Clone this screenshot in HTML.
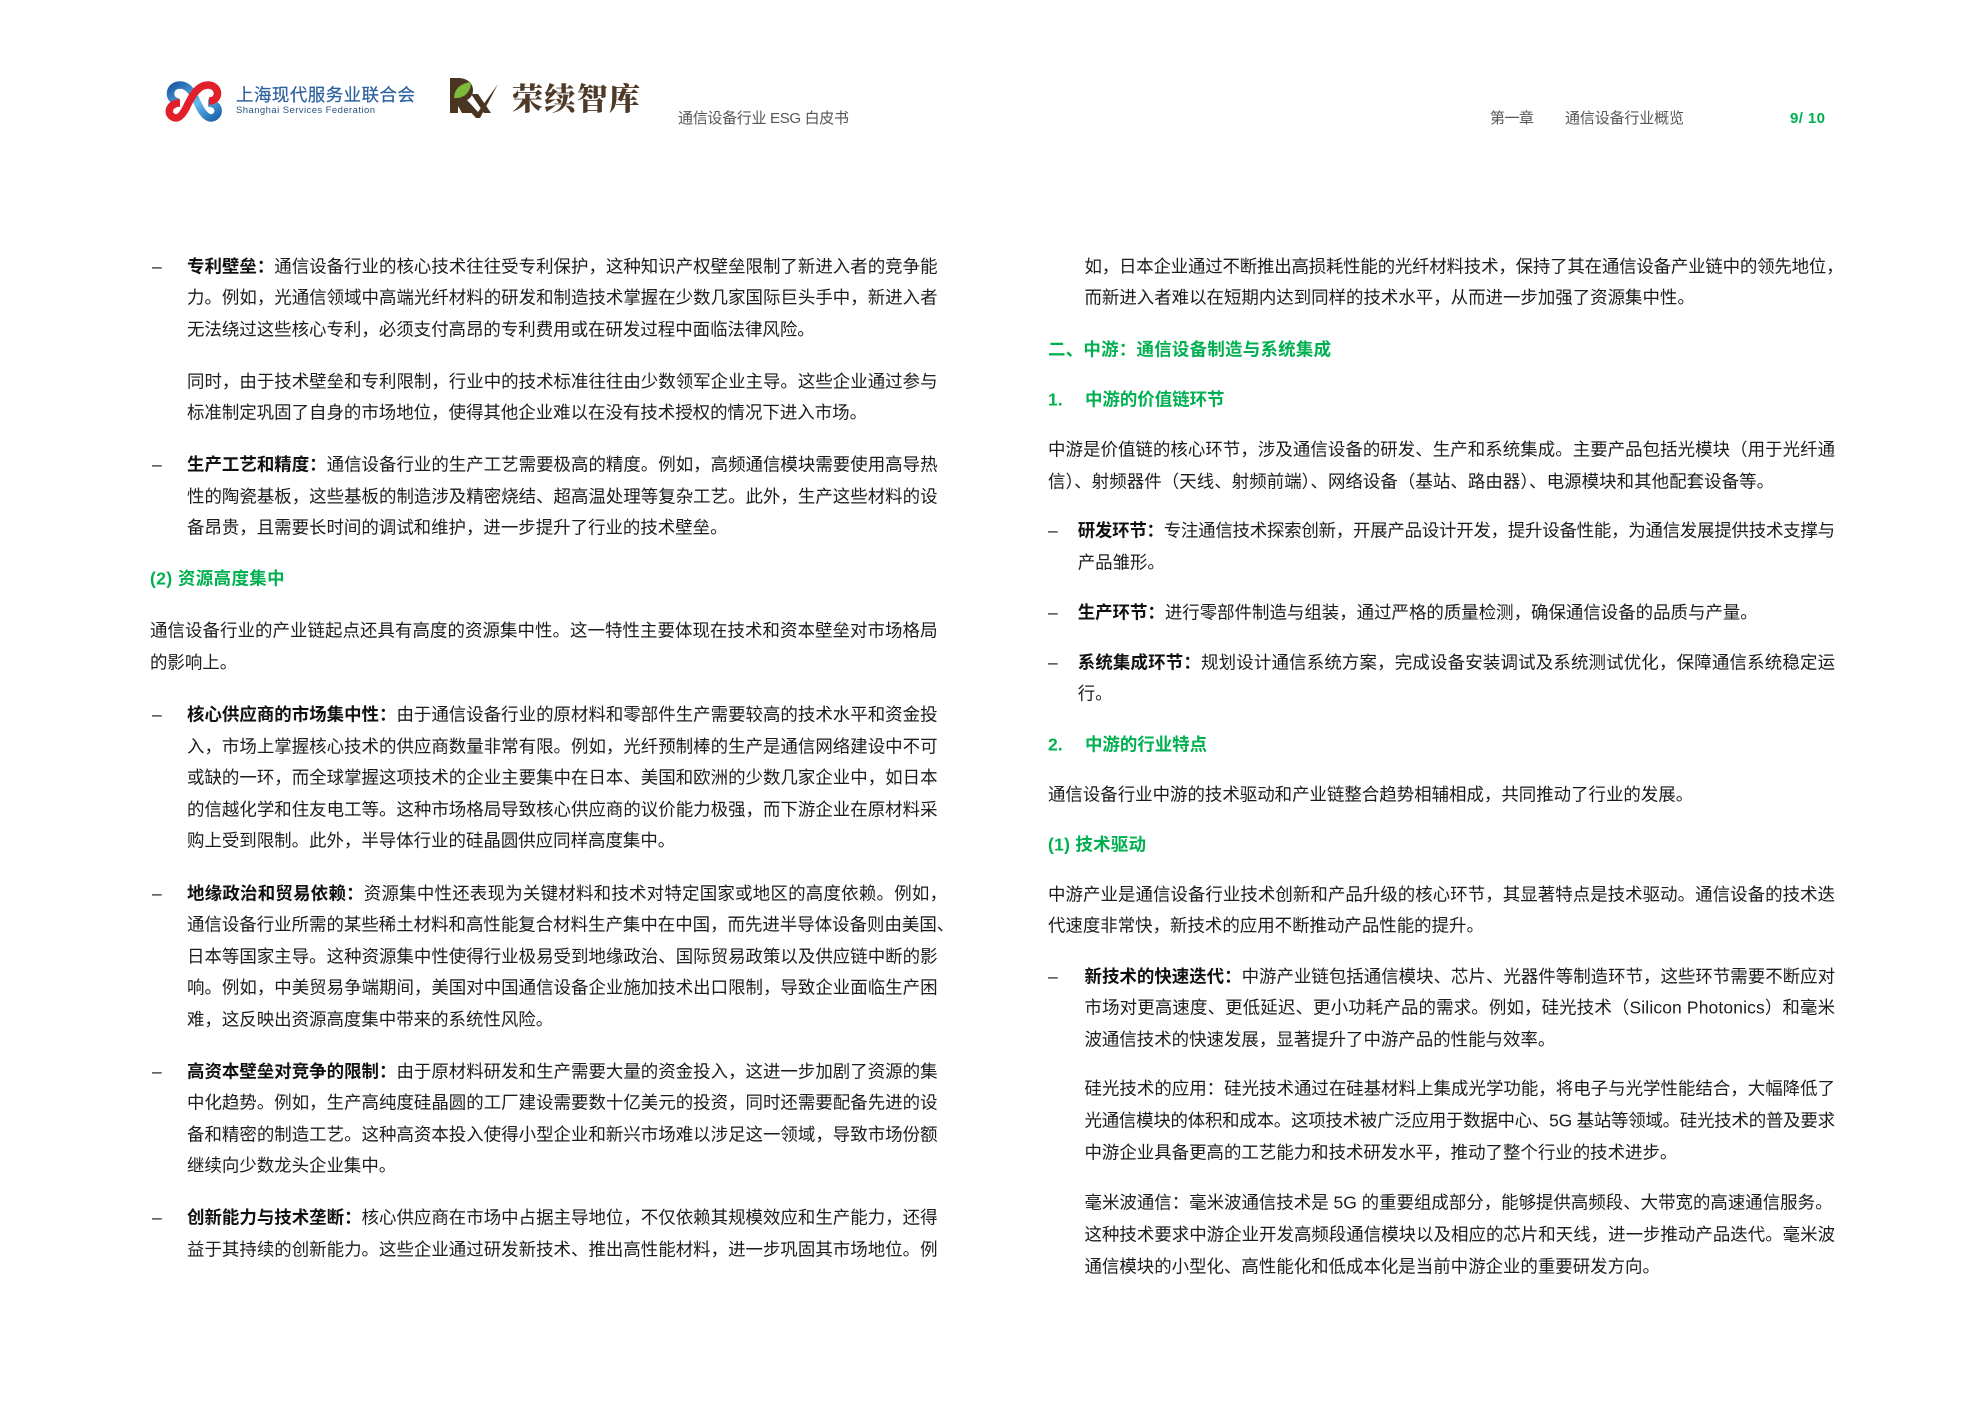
<!DOCTYPE html>
<html lang="zh-CN">
<head>
<meta charset="utf-8">
<title>通信设备行业 ESG 白皮书</title>
<style>
html,body{margin:0;padding:0;background:#fff;width:1984px;height:1403px;overflow:hidden}
svg{display:block}
text{font-family:"Liberation Sans","Noto Sans CJK SC",sans-serif;font-size:17.45px;fill:#1c1c1c;white-space:pre}
.b{font-weight:700;fill:#111}
.g{font-weight:700;fill:#00b050}
.h{font-size:15px;fill:#555}
</style>
</head>
<body>
<svg xmlns="http://www.w3.org/2000/svg" width="1984" height="1403" viewBox="0 0 1984 1403">
<defs>
<linearGradient id="bl" x1="0" y1="0" x2="1" y2="1"><stop offset="0" stop-color="#1a5aa6"/><stop offset=".55" stop-color="#66bdec"/><stop offset="1" stop-color="#1c64ad"/></linearGradient>
</defs>
<rect width="1984" height="1403" fill="#fff"/>

<!-- Federation logo -->
<path d="M179 102C167 101 168 85 180 85C190 85 194 96 198 104C202 113 207 118 211 118C221 117 221 103 208 103" fill="none" stroke="url(#bl)" stroke-width="7.5"/>
<path d="M209 101C221 101 220 85 208 85C198 85 192 96 188 104C184 113 180 118 176 118C166 117 167 103 180 103" fill="none" stroke="#e2202c" stroke-width="7.5"/>
<text x="236" y="101" textLength="179" style="font-size:17.5px;fill:#2c5f9e;stroke:#2c5f9e;stroke-width:.2">上海现代服务业联合会</text>
<text x="236" y="113" textLength="139" style="font-size:9.5px;fill:#28517f">Shanghai Services Federation</text>

<!-- Rongxu logo -->
<path d="M450 78H458C467 78 473 83 473 90C473 97 468 101 462 101L472 113H462L458 106V113H450Z" fill="#4a3422"/>
<path d="M454 98C454 89 461 83 471 82C471 92 464 99 454 98Z" fill="#7cba3a"/>
<path d="M461 101L467 100L478 112L498 84L480 118H476Z" fill="#4a3422"/>
<path d="M471 94H478L491 113H484Z" fill="#4a3422"/>
<text x="512" y="110" textLength="128" style="font-family:'Noto Serif CJK SC',serif;font-weight:900;font-size:31px;fill:#4f3a28">荣续智库</text>

<!-- Header -->
<text class="h" x="678" y="123" textLength="171">通信设备行业 ESG 白皮书</text>
<text class="h" x="1490" y="123" textLength="44">第一章</text>
<text class="h" x="1565" y="123" textLength="119">通信设备行业概览</text>
<text x="1790" y="123" textLength="35" style="font-size:15px;fill:#00b050;font-weight:700">9/ 10</text>

<!-- Left column -->
<g transform="translate(0,-1)">
<text x="152" y="273.6">–</text>
<text x="187" y="273.6" textLength="750.5"><tspan class="b">专利壁垒：</tspan>通信设备行业的核心技术往往受专利保护，这种知识产权壁垒限制了新进入者的竞争能</text>
<text x="187" y="304.6" textLength="750.5">力。例如，光通信领域中高端光纤材料的研发和制造技术掌握在少数几家国际巨头手中，新进入者</text>
<text x="187" y="336.6">无法绕过这些核心专利，必须支付高昂的专利费用或在研发过程中面临法律风险。</text>
<text x="187" y="388.6" textLength="750.5">同时，由于技术壁垒和专利限制，行业中的技术标准往往由少数领军企业主导。这些企业通过参与</text>
<text x="187" y="419.6">标准制定巩固了自身的市场地位，使得其他企业难以在没有技术授权的情况下进入市场。</text>
<text x="152" y="471.6">–</text>
<text x="187" y="471.6" textLength="750.5"><tspan class="b">生产工艺和精度：</tspan>通信设备行业的生产工艺需要极高的精度。例如，高频通信模块需要使用高导热</text>
<text x="187" y="503.6" textLength="750.5">性的陶瓷基板，这些基板的制造涉及精密烧结、超高温处理等复杂工艺。此外，生产这些材料的设</text>
<text x="187" y="534.6">备昂贵，且需要长时间的调试和维护，进一步提升了行业的技术壁垒。</text>
<text class="g" x="150" y="585.6" textLength="134.6">(2) 资源高度集中</text>
<text x="150" y="637.6" textLength="787.5">通信设备行业的产业链起点还具有高度的资源集中性。这一特性主要体现在技术和资本壁垒对市场格局</text>
<text x="150" y="669.6">的影响上。</text>
<text x="152" y="721.6">–</text>
<text x="187" y="721.6" textLength="750.5"><tspan class="b">核心供应商的市场集中性：</tspan>由于通信设备行业的原材料和零部件生产需要较高的技术水平和资金投</text>
<text x="187" y="753.6" textLength="750.5">入，市场上掌握核心技术的供应商数量非常有限。例如，光纤预制棒的生产是通信网络建设中不可</text>
<text x="187" y="784.6" textLength="750.5">或缺的一环，而全球掌握这项技术的企业主要集中在日本、美国和欧洲的少数几家企业中，如日本</text>
<text x="187" y="816.6" textLength="750.5">的信越化学和住友电工等。这种市场格局导致核心供应商的议价能力极强，而下游企业在原材料采</text>
<text x="187" y="847.6">购上受到限制。此外，半导体行业的硅晶圆供应同样高度集中。</text>
<text x="152" y="900.6">–</text>
<text x="187" y="900.6" textLength="760"><tspan class="b">地缘政治和贸易依赖：</tspan>资源集中性还表现为关键材料和技术对特定国家或地区的高度依赖。例如，</text>
<text x="187" y="931.6">通信设备行业所需的某些稀土材料和高性能复合材料生产集中在中国，而先进半导体设备则由美国、</text>
<text x="187" y="963.6" textLength="750.5">日本等国家主导。这种资源集中性使得行业极易受到地缘政治、国际贸易政策以及供应链中断的影</text>
<text x="187" y="994.6" textLength="750.5">响。例如，中美贸易争端期间，美国对中国通信设备企业施加技术出口限制，导致企业面临生产困</text>
<text x="187" y="1026.6">难，这反映出资源高度集中带来的系统性风险。</text>
<text x="152" y="1078.6">–</text>
<text x="187" y="1078.6" textLength="750.5"><tspan class="b">高资本壁垒对竞争的限制：</tspan>由于原材料研发和生产需要大量的资金投入，这进一步加剧了资源的集</text>
<text x="187" y="1109.6" textLength="750.5">中化趋势。例如，生产高纯度硅晶圆的工厂建设需要数十亿美元的投资，同时还需要配备先进的设</text>
<text x="187" y="1141.6" textLength="750.5">备和精密的制造工艺。这种高资本投入使得小型企业和新兴市场难以涉足这一领域，导致市场份额</text>
<text x="187" y="1172.6">继续向少数龙头企业集中。</text>
<text x="152" y="1224.6">–</text>
<text x="187" y="1224.6" textLength="750.5"><tspan class="b">创新能力与技术垄断：</tspan>核心供应商在市场中占据主导地位，不仅依赖其规模效应和生产能力，还得</text>
<text x="187" y="1256.6" textLength="750.5">益于其持续的创新能力。这些企业通过研发新技术、推出高性能材料，进一步巩固其市场地位。例</text>
</g>

<!-- Right column -->
<text x="1084.5" y="272.6" textLength="759">如，日本企业通过不断推出高损耗性能的光纤材料技术，保持了其在通信设备产业链中的领先地位，</text>
<text x="1084.5" y="303.6">而新进入者难以在短期内达到同样的技术水平，从而进一步加强了资源集中性。</text>
<text class="g" x="1048" y="355.6" textLength="283">二、中游：通信设备制造与系统集成</text>
<text class="g" x="1048" y="405.6">1.</text>
<text class="g" x="1085" y="405.6">中游的价值链环节</text>
<text x="1048" y="455.6" textLength="787">中游是价值链的核心环节，涉及通信设备的研发、生产和系统集成。主要产品包括光模块（用于光纤通</text>
<text x="1048" y="487.6" textLength="726">信）、射频器件（天线、射频前端）、网络设备（基站、路由器）、电源模块和其他配套设备等。</text>
<text x="1048" y="536.6">–</text>
<text x="1077.7" y="536.6" textLength="757.3"><tspan class="b">研发环节：</tspan>专注通信技术探索创新，开展产品设计开发，提升设备性能，为通信发展提供技术支撑与</text>
<text x="1077.7" y="568.6">产品雏形。</text>
<text x="1048" y="618.3">–</text>
<text x="1077.7" y="618.3"><tspan class="b">生产环节：</tspan>进行零部件制造与组装，通过严格的质量检测，确保通信设备的品质与产量。</text>
<text x="1048" y="668.3">–</text>
<text x="1077.7" y="668.3" textLength="757.3"><tspan class="b">系统集成环节：</tspan>规划设计通信系统方案，完成设备安装调试及系统测试优化，保障通信系统稳定运</text>
<text x="1077.7" y="699.6">行。</text>
<text class="g" x="1048" y="750.6">2.</text>
<text class="g" x="1085" y="750.6">中游的行业特点</text>
<text x="1048" y="800.6">通信设备行业中游的技术驱动和产业链整合趋势相辅相成，共同推动了行业的发展。</text>
<text class="g" x="1048" y="850.6" textLength="98">(1) 技术驱动</text>
<text x="1048" y="900.6" textLength="787">中游产业是通信设备行业技术创新和产品升级的核心环节，其显著特点是技术驱动。通信设备的技术迭</text>
<text x="1048" y="931.6">代速度非常快，新技术的应用不断推动产品性能的提升。</text>
<text x="1048" y="982.3">–</text>
<text x="1084.5" y="982.3" textLength="750.5"><tspan class="b">新技术的快速迭代：</tspan>中游产业链包括通信模块、芯片、光器件等制造环节，这些环节需要不断应对</text>
<text x="1084.5" y="1013.6" textLength="750.5">市场对更高速度、更低延迟、更小功耗产品的需求。例如，硅光技术（Silicon Photonics）和毫米</text>
<text x="1084.5" y="1045.6">波通信技术的快速发展，显著提升了中游产品的性能与效率。</text>
<text x="1084.5" y="1094.6" textLength="750.5">硅光技术的应用：硅光技术通过在硅基材料上集成光学功能，将电子与光学性能结合，大幅降低了</text>
<text x="1084.5" y="1126.6" textLength="750.5">光通信模块的体积和成本。这项技术被广泛应用于数据中心、5G 基站等领域。硅光技术的普及要求</text>
<text x="1084.5" y="1158.6">中游企业具备更高的工艺能力和技术研发水平，推动了整个行业的技术进步。</text>
<text x="1084.5" y="1208.6" textLength="748">毫米波通信：毫米波通信技术是 5G 的重要组成部分，能够提供高频段、大带宽的高速通信服务。</text>
<text x="1084.5" y="1240.6" textLength="750.5">这种技术要求中游企业开发高频段通信模块以及相应的芯片和天线，进一步推动产品迭代。毫米波</text>
<text x="1084.5" y="1272.6">通信模块的小型化、高性能化和低成本化是当前中游企业的重要研发方向。</text>
</svg>
</body>
</html>
